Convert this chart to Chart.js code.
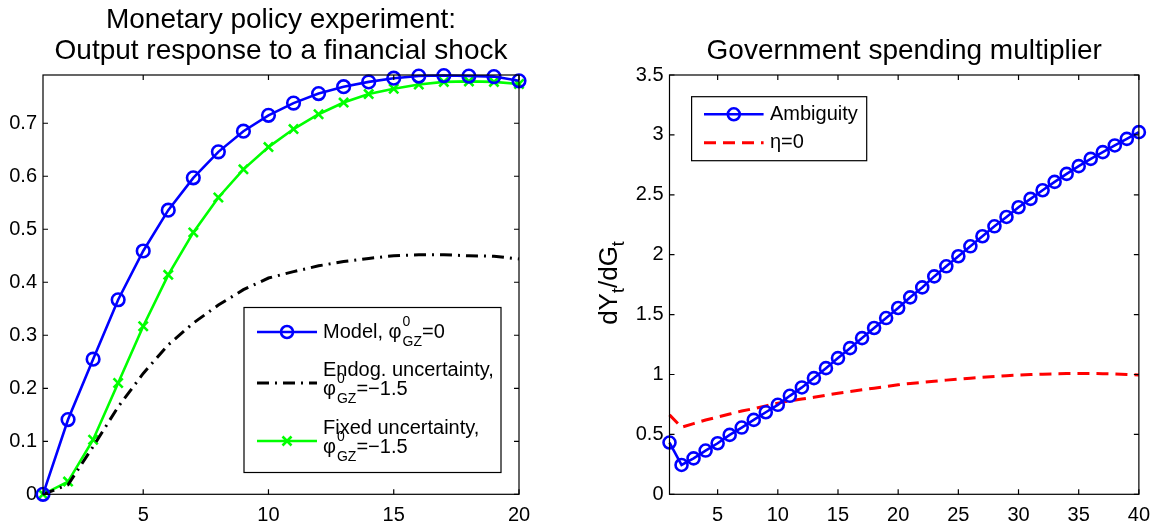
<!DOCTYPE html>
<html>
<head>
<meta charset="utf-8">
<title>Output response and spending multiplier</title>
<script src="https://cdn.jsdelivr.net/npm/chart.js@4.4.1/dist/chart.umd.min.js"></script>
<style>
  html, body { margin: 0; padding: 0; background: #fff; }
  #wrap { position: relative; width: 1159px; height: 522px; overflow: hidden; }
  .panel { position: absolute; top: 0; height: 522px; }
</style>
</head>
<body>
<div id="wrap">
  <div class="panel" style="left:0;width:580px"><canvas id="policyChart"></canvas></div>
  <div class="panel" style="left:580px;width:579px"><canvas id="multiplierChart"></canvas></div>
</div>
<script>
// --- left panel: output response to a financial shock ---
const quarters = [1, 2, 3, 4, 5, 6, 7, 8, 9, 10, 11, 12, 13, 14, 15, 16, 17, 18, 19, 20];
const modelResponse = [0, 0.141, 0.255, 0.367, 0.459, 0.536, 0.597, 0.646, 0.685, 0.715,
                       0.738, 0.756, 0.769, 0.778, 0.785, 0.789, 0.790, 0.789, 0.788, 0.780];
const endogResponse = [0, 0.018, 0.090, 0.165, 0.228, 0.282, 0.323, 0.357, 0.386, 0.408,
                       0.420, 0.431, 0.439, 0.445, 0.450, 0.452, 0.452, 0.450, 0.449, 0.444];
const fixedResponse = [0, 0.024, 0.103, 0.210, 0.317, 0.414, 0.494, 0.560, 0.613, 0.655,
                       0.689, 0.717, 0.739, 0.755, 0.765, 0.773, 0.778, 0.779, 0.778, 0.774];
const quarterTicks = [5, 10, 15, 20];
const responseTicks = [0, 0.1, 0.2, 0.3, 0.4, 0.5, 0.6, 0.7];

// --- right panel: government spending multiplier ---
const horizons = [1, 2, 3, 4, 5, 6, 7, 8, 9, 10, 11, 12, 13, 14, 15, 16, 17, 18, 19, 20,
                  21, 22, 23, 24, 25, 26, 27, 28, 29, 30, 31, 32, 33, 34, 35, 36, 37, 38, 39, 40];
const ambiguity = [0.432, 0.245, 0.300, 0.365, 0.426, 0.496, 0.557, 0.621, 0.685, 0.747,
                   0.822, 0.892, 0.970, 1.053, 1.137, 1.220, 1.304, 1.388, 1.471, 1.555,
                   1.644, 1.727, 1.819, 1.903, 1.987, 2.070, 2.154, 2.237, 2.315, 2.396,
                   2.466, 2.538, 2.608, 2.675, 2.739, 2.800, 2.856, 2.912, 2.967, 3.023];
const etaZero = [0.663, 0.560, 0.590, 0.620, 0.645, 0.670, 0.695, 0.715, 0.738, 0.761,
                 0.780, 0.795, 0.810, 0.827, 0.844, 0.858, 0.872, 0.886, 0.900, 0.914,
                 0.925, 0.935, 0.944, 0.953, 0.961, 0.969, 0.976, 0.983, 0.990, 0.995,
                 0.999, 1.003, 1.006, 1.008, 1.009, 1.009, 1.007, 1.004, 1.000, 0.996];
const horizonTicks = [5, 10, 15, 20, 25, 30, 35, 40];
const multiplierTicks = [0, 0.5, 1, 1.5, 2, 2.5, 3, 3.5];

const FONT = "'Liberation Sans', Arial, Helvetica, sans-serif";
const BLUE = '#0000ff', GREEN = '#00ff00', RED = '#ff0000', BLACK = '#000000';
const DASH_DOT = [12, 6, 2, 6];
const DASHED = [12, 7];

function series(label, xs, ys, style) {
  return Object.assign({
    label: label,
    data: xs.map((x, i) => ({ x: x, y: ys[i] })),
    fill: false,
    tension: 0,
    clip: false,
    pointRadius: 0,
    pointHoverRadius: 0
  }, style);
}

function scalesFor(xMin, xMax, xTicks, yMax, yTicks, yWidth) {
  const tickFont = { family: FONT, size: 20 };
  return {
    x: {
      type: 'linear', min: xMin, max: xMax,
      afterBuildTicks: s => { s.ticks = xTicks.map(v => ({ value: v })); },
      afterFit: s => { s.height = 27.7; },
      grid: { display: false, drawTicks: false },
      border: { display: false },
      ticks: { padding: 9, color: BLACK, font: tickFont, autoSkip: false, maxRotation: 0,
               callback: v => String(v) }
    },
    y: {
      type: 'linear', min: 0, max: yMax,
      afterBuildTicks: s => { s.ticks = yTicks.map(v => ({ value: v })); },
      afterFit: s => { s.width = yWidth; },
      grid: { display: false, drawTicks: false },
      border: { display: false },
      ticks: { padding: 6, color: BLACK, font: tickFont, autoSkip: false,
               callback: v => String(v) }
    }
  };
}

// text with φ^0_GZ in the middle
function drawPhi(ctx, x, y, pre, post) {
  ctx.font = '20px ' + FONT;
  ctx.fillText(pre + 'φ', x, y);
  x += ctx.measureText(pre + 'φ').width + 1;
  ctx.font = '14px ' + FONT;
  ctx.fillText('0', x, y - 10);
  ctx.fillText('GZ', x, y + 10);
  const w = Math.max(ctx.measureText('0').width, ctx.measureText('GZ').width);
  ctx.font = '20px ' + FONT;
  ctx.fillText(post, x + w, y);
}

function drawMarker(ctx, kind, x, y) {
  ctx.beginPath();
  if (kind === 'circle') {
    ctx.arc(x, y, 6, 0, Math.PI * 2);
  } else if (kind === 'crossRot') {
    ctx.moveTo(x - 4.5, y - 4.5); ctx.lineTo(x + 4.5, y + 4.5);
    ctx.moveTo(x - 4.5, y + 4.5); ctx.lineTo(x + 4.5, y - 4.5);
  }
  ctx.stroke();
}

// axes box, inward ticks, titles, legend and y label drawn the MATLAB way
const matlabFrame = {
  id: 'matlabFrame',
  afterDraw(chart, args, opts) {
    const { ctx, chartArea: a, scales } = chart;
    ctx.save();
    ctx.strokeStyle = BLACK;
    ctx.lineWidth = 1.2;
    ctx.strokeRect(a.left, a.top, a.right - a.left, a.bottom - a.top);
    ctx.beginPath();
    scales.x.ticks.forEach(t => {
      const px = scales.x.getPixelForValue(t.value);
      ctx.moveTo(px, a.bottom); ctx.lineTo(px, a.bottom - 5);
      ctx.moveTo(px, a.top); ctx.lineTo(px, a.top + 5);
    });
    scales.y.ticks.forEach(t => {
      const py = scales.y.getPixelForValue(t.value);
      ctx.moveTo(a.left, py); ctx.lineTo(a.left + 5, py);
      ctx.moveTo(a.right, py); ctx.lineTo(a.right - 5, py);
    });
    ctx.stroke();

    // title
    ctx.fillStyle = BLACK;
    ctx.textAlign = 'center';
    ctx.textBaseline = 'alphabetic';
    ctx.font = '28px ' + FONT;
    const cx = (a.left + a.right) / 2;
    opts.title.forEach((line, i) => ctx.fillText(line, cx, opts.titleBaselines[i]));

    // y axis label with subscripts
    if (opts.ylabel) {
      const yl = opts.ylabel;
      ctx.save();
      ctx.translate(yl.x, yl.y);
      ctx.rotate(-Math.PI / 2);
      ctx.textAlign = 'left';
      ctx.textBaseline = 'middle';
      let total = 0;
      yl.parts.forEach(p => {
        ctx.font = (p.sub ? '18px ' : '26px ') + FONT;
        total += ctx.measureText(p.text).width;
      });
      let x = -total / 2;
      yl.parts.forEach(p => {
        ctx.font = (p.sub ? '18px ' : '26px ') + FONT;
        ctx.fillText(p.text, x, p.sub ? 9 : 0);
        x += ctx.measureText(p.text).width;
      });
      ctx.restore();
    }

    // legend
    const lg = opts.legend;
    const [bx0, by0, bx1, by1] = lg.box;
    ctx.fillStyle = '#ffffff';
    ctx.fillRect(bx0, by0, bx1 - bx0, by1 - by0);
    ctx.strokeStyle = BLACK;
    ctx.lineWidth = 1.2;
    ctx.strokeRect(bx0, by0, bx1 - bx0, by1 - by0);
    lg.items.forEach(item => {
      ctx.strokeStyle = item.color;
      ctx.lineWidth = item.width;
      ctx.setLineDash(item.dash || []);
      ctx.beginPath();
      ctx.moveTo(lg.sample[0], item.y);
      ctx.lineTo(lg.sample[1], item.y);
      ctx.stroke();
      ctx.setLineDash([]);
      if (item.marker) {
        ctx.lineWidth = 2.6;
        drawMarker(ctx, item.marker, (lg.sample[0] + lg.sample[1]) / 2, item.y);
      }
      ctx.fillStyle = BLACK;
      ctx.textAlign = 'left';
      ctx.textBaseline = 'middle';
      item.rows.forEach(r => {
        if (r.phi) {
          drawPhi(ctx, lg.textX, r.y, r.pre, r.post);
        } else {
          ctx.font = '20px ' + FONT;
          ctx.fillText(r.text, lg.textX, r.y);
        }
      });
    });
    ctx.restore();
  }
};

new Chart(document.getElementById('policyChart'), {
  type: 'line',
  data: {
    datasets: [
      series('Model', quarters, modelResponse, {
        borderColor: BLUE, borderWidth: 2.6,
        pointStyle: 'circle', pointRadius: 6.3, pointBorderWidth: 2.6,
        pointBorderColor: BLUE, pointBackgroundColor: 'rgba(0,0,0,0)'
      }),
      series('Endog. uncertainty', quarters, endogResponse, {
        borderColor: BLACK, borderWidth: 3, borderDash: DASH_DOT
      }),
      series('Fixed uncertainty', quarters, fixedResponse, {
        borderColor: GREEN, borderWidth: 2.6,
        pointStyle: 'crossRot', pointRadius: 6.5, pointBorderWidth: 2.6,
        pointBorderColor: GREEN
      })
    ]
  },
  options: {
    responsive: true,
    maintainAspectRatio: false,
    animation: false,
    events: [],
    layout: { padding: { left: 0, top: 75, right: 61, bottom: 0 } },
    scales: scalesFor(1, 20, quarterTicks, 0.791, responseTicks, 43),
    plugins: {
      legend: { display: false },
      tooltip: { enabled: false },
      matlabFrame: {
        title: ['Monetary policy experiment:', 'Output response to a financial shock'],
        titleBaselines: [27.7, 59.3],
        legend: {
          box: [244, 307.5, 501, 472.5],
          sample: [257, 317],
          textX: 323,
          items: [
            { color: BLUE, width: 2.6, marker: 'circle', y: 332,
              rows: [{ y: 332, phi: true, pre: 'Model, ', post: '=0' }] },
            { color: BLACK, width: 3, dash: DASH_DOT, y: 383,
              rows: [{ y: 370, text: 'Endog. uncertainty,' },
                     { y: 389, phi: true, pre: '', post: '=\u22121.5' }] },
            { color: GREEN, width: 2.6, marker: 'crossRot', y: 441,
              rows: [{ y: 428, text: 'Fixed uncertainty,' },
                     { y: 447, phi: true, pre: '', post: '=\u22121.5' }] }
          ]
        }
      }
    }
  },
  plugins: [matlabFrame]
});

new Chart(document.getElementById('multiplierChart'), {
  type: 'line',
  data: {
    datasets: [
      series('Ambiguity', horizons, ambiguity, {
        borderColor: BLUE, borderWidth: 2.6,
        pointStyle: 'circle', pointRadius: 6, pointBorderWidth: 2.6,
        pointBorderColor: BLUE, pointBackgroundColor: 'rgba(0,0,0,0)'
      }),
      series('η=0', horizons, etaZero, {
        borderColor: RED, borderWidth: 3, borderDash: DASHED
      })
    ]
  },
  options: {
    responsive: true,
    maintainAspectRatio: false,
    animation: false,
    events: [],
    layout: { padding: { left: 0, top: 75, right: 15, bottom: 0 } },
    scales: scalesFor(1, 40, horizonTicks, 3.5, multiplierTicks, 89.5),
    plugins: {
      legend: { display: false },
      tooltip: { enabled: false },
      matlabFrame: {
        title: ['Government spending multiplier'],
        titleBaselines: [59.3],
        ylabel: {
          x: 30, y: 283,
          parts: [{ text: 'dY' }, { text: 't', sub: true }, { text: '/dG' }, { text: 't', sub: true }]
        },
        legend: {
          box: [111.6, 96.7, 286.7, 160.7],
          sample: [124, 183.6],
          textX: 190,
          items: [
            { color: BLUE, width: 2.6, marker: 'circle', y: 114.3,
              rows: [{ y: 114.3, text: 'Ambiguity' }] },
            { color: RED, width: 3, dash: DASHED, y: 142.7,
              rows: [{ y: 142.7, text: 'η=0' }] }
          ]
        }
      }
    }
  },
  plugins: [matlabFrame]
});
</script>
</body>
</html>
